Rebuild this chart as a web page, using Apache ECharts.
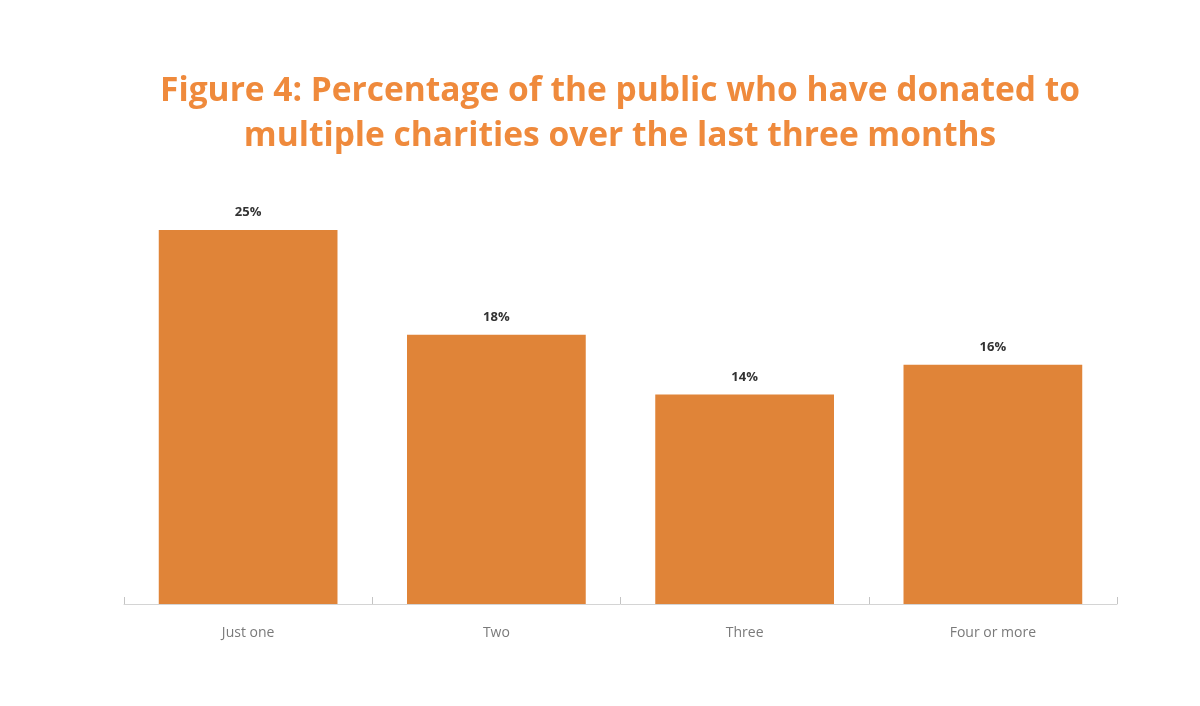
<!DOCTYPE html>
<html>
<head>
<meta charset="utf-8">
<script src="https://cdn.jsdelivr.net/npm/echarts@6/dist/echarts.min.js"></script>
<style>
  html, body { margin: 0; padding: 0; background: #fff; }
  #chart { width: 1200px; height: 706px; }
</style>
</head>
<body>
<div id="chart"></div>
<script>
// categories and values (percent)
var categories = ['Just one', 'Two', 'Three', 'Four or more'];
var shares = [25, 18, 14, 16];

var myChart = echarts.init(document.getElementById('chart'));

var option = {
    animation: false,
    backgroundColor: '#fff',
    title: {
        text: 'Figure 4: Percentage of the public who have donated to\nmultiple charities over the last three months',
        left: 615,
        top: 64,
        textAlign: 'center',
        textStyle: {
            color: '#EF8A3C',
            fontFamily: 'Open Sans',
            fontWeight: 'bold',
            fontSize: 33.5,
            lineHeight: 45
        }
    },
    grid: {
        left: 124,
        right: 83,
        top: 230,
        bottom: 102
    },
    xAxis: {
        type: 'category',
        data: categories,
        axisLine: { lineStyle: { color: '#d4d4d4', width: 1 } },
        axisTick: { show: true, inside: true, length: 7, lineStyle: { color: '#c4c4c4' } },
        axisLabel: {
            color: '#7a7a7a',
            fontFamily: 'Open Sans',
            fontSize: 14,
            margin: 22
        }
    },
    yAxis: {
        type: 'value',
        min: 0,
        max: 25,
        show: false,
        splitLine: { show: false }
    },
    series: [{
        type: 'bar',
        data: shares,
        barCategoryGap: '28%',
        itemStyle: { color: '#E08438' },
        label: {
            show: true,
            position: 'top',
            distance: 11,
            formatter: '{c}%',
            color: '#333',
            fontFamily: 'Open Sans',
            fontWeight: 'bold',
            fontSize: 13
        }
    }]
};

myChart.setOption(option);
</script>
</body>
</html>
